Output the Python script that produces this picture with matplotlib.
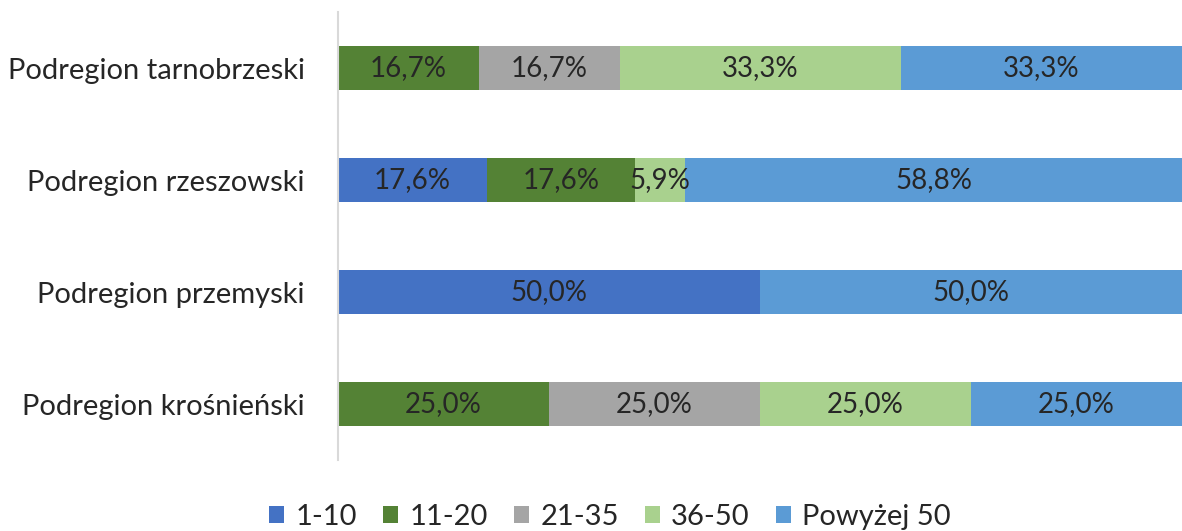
import matplotlib
matplotlib.use("Agg")
import matplotlib.pyplot as plt
from matplotlib.patches import Patch
import numpy as np

categories = ["Podregion tarnobrzeski", "Podregion rzeszowski", "Podregion przemyski", "Podregion krośnieński"]
series_names = ["1-10", "11-20", "21-35", "36-50", "Powyżej 50"]
v_1_10 = [0.0, 17.6, 50.0, 0.0]
v_11_20 = [16.7, 17.6, 0.0, 25.0]
v_21_35 = [16.7, 0.0, 0.0, 25.0]
v_36_50 = [33.3, 5.9, 0.0, 25.0]
v_pow50 = [33.3, 58.8, 50.0, 25.0]
colors = ["#4472C4", "#548235", "#A5A5A5", "#A9D18E", "#5B9BD5"]

plt.rcParams['font.family'] = ['Lato', 'DejaVu Sans']
txt = "#262626"

fig = plt.figure(figsize=(11.82, 5.31), dpi=100)
ax = fig.add_axes([338/1182, 1-460/531, 1-338/1182, 448/531])

series = [v_1_10, v_11_20, v_21_35, v_36_50, v_pow50]
y = np.arange(len(categories))[::-1]
left = np.zeros(len(categories))
totals = np.sum(series, axis=0)
for name, vals, c in zip(series_names, series, colors):
    vals = np.array(vals)
    widths = vals / totals * 100
    ax.barh(y, widths, left=left, height=0.39, color=c, edgecolor='none')
    for yi, li, wi, vi in zip(y, left, widths, vals):
        if vi > 0:
            ax.text(li + wi/2, yi, f"{vi:.1f}%".replace('.', ','), ha='center', va='center',
                    fontsize=20, color=txt)
    left += widths

ax.set_xlim(0, 100)
ax.set_ylim(-0.5, len(categories) - 0.5)
ax.set_yticks(y)
ax.set_yticklabels(categories, fontsize=21, color=txt)
ax.tick_params(axis='y', length=0, pad=24)
ax.set_xticks([])
for s in ['top', 'right', 'bottom']:
    ax.spines[s].set_visible(False)
ax.spines['left'].set_color('#D9D9D9')
ax.spines['left'].set_linewidth(1.5)

handles = [Patch(facecolor=c, edgecolor='none', label=n) for n, c in zip(series_names, colors)]
leg = fig.legend(handles=handles, loc='center', bbox_to_anchor=(610/1182, 1-517/531), ncol=5,
                 frameon=False, fontsize=21, handlelength=0.5, handleheight=0.5,
                 handletextpad=0.4, columnspacing=0.9, borderpad=0)
for t in leg.get_texts():
    t.set_color(txt)

fig.savefig("out.png", dpi=100)
